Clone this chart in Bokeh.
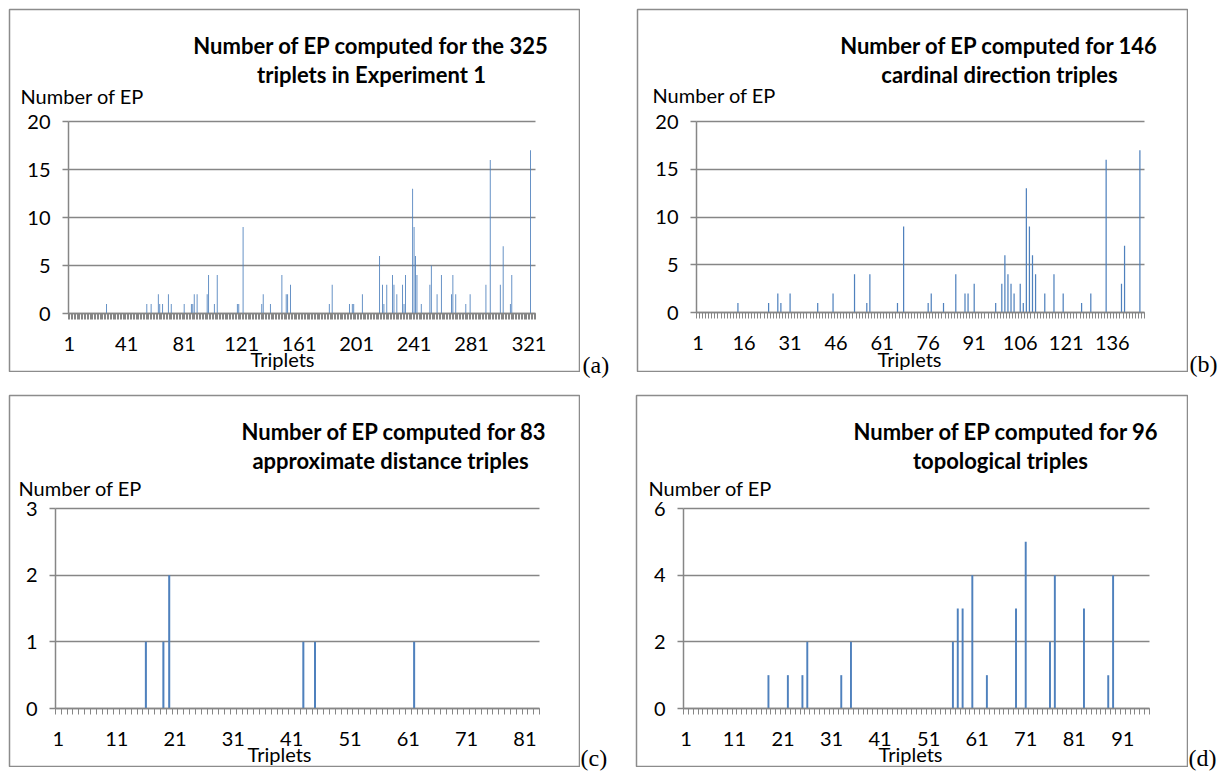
from bokeh.plotting import figure
from bokeh.models import Range1d, FixedTicker, Label, Spacer
from bokeh.layouts import row, column
from bokeh.embed import file_html
from bokeh.resources import INLINE

# ---------------- data ----------------
# (a) 325 triplets in Experiment 1 (only non-zero entries listed)
a_count = 325
a_idx = [27, 55, 58, 63, 64, 66, 70, 72, 81, 86, 87, 88, 90, 97, 98, 102, 104, 118, 119, 122,
         135, 136, 141, 149, 152, 153, 155, 182, 184, 196, 198, 199, 205, 217, 219, 220, 222, 226, 227, 229,
         233, 234, 235, 240, 241, 242, 243, 246, 252, 253, 257, 260, 267, 268, 270, 277, 280, 291, 294, 301,
         303, 308, 309, 322]
a_val = [1, 1, 1, 2, 1, 1, 2, 1, 1, 1, 1, 2, 2, 2, 4, 1, 4, 1, 1, 9,
         1, 2, 1, 4, 2, 2, 3, 1, 3, 1, 1, 1, 2, 6, 3, 1, 3, 4, 3, 2,
         3, 1, 4, 13, 9, 6, 4, 1, 3, 5, 2, 4, 2, 4, 2, 1, 2, 3, 16, 3,
         7, 1, 4, 17]

# (b) 146 cardinal direction triples
b_count = 146
b_idx = [14, 24, 27, 28, 31, 40, 45, 52, 56, 57, 66, 68, 76, 77, 81, 85, 88, 89, 91, 98,
         100, 101, 102, 103, 104, 106, 107, 108, 109, 110, 111, 114, 117, 120, 126, 129, 134, 139, 140, 145]
b_val = [1, 1, 2, 1, 2, 1, 2, 4, 1, 4, 1, 9, 1, 2, 1, 4, 2, 2, 3, 1,
         3, 6, 4, 3, 2, 3, 1, 13, 9, 6, 4, 2, 4, 2, 1, 2, 16, 3, 7, 17]

# (c) 83 approximate distance triples
c_count = 83
c_idx = [16, 19, 20, 43, 45, 62]
c_val = [1, 1, 2, 1, 1, 1]

# (d) 96 topological triples
d_count = 96
d_idx = [18, 22, 25, 26, 33, 35, 56, 57, 58, 60, 63, 69, 71, 76, 77, 83, 88, 89]
d_val = [1, 1, 1, 2, 1, 2, 2, 3, 3, 4, 1, 3, 5, 2, 4, 3, 1, 4]

y_label = "Number of EP"
x_label = "Triplets"
titles = {
    "a": ["Number of EP computed for the 325", "triplets in Experiment 1"],
    "b": ["Number of EP computed for 146", "cardinal direction triples"],
    "c": ["Number of EP computed for 83", "approximate distance triples"],
    "d": ["Number of EP computed for 96", "topological triples"],
}

# ---------------- style ----------------
GRAY = "#868686"
BORDER = "#8c8c8c"
BAR = "#4F81BD"
FONT = "Lato"
TXT = "20px"
TITLE = "22px"
LIFT = 8  # label anchor correction (px)


def panel(n, idx, val, ymax, ystep, xstep, w, h, fl, fr, ft, fb, bar_w,
          ttl, ttl_x, ttl_y, ylab_x, ylab_y, xlab_x, xlab_y):
    def xd(px):
        return 0.5 + (px - fl) / (fr - fl) * n

    def yd(py):
        return (fb - py) / (fb - ft) * ymax

    p = figure(width=w, height=h,
               x_range=Range1d(xd(1), xd(w - 1)), y_range=Range1d(yd(h - 1), yd(1)),
               output_backend="svg", toolbar_location=None, min_border=1)
    p.outline_line_color = BORDER
    p.outline_line_width = 1.5
    p.background_fill_color = "white"
    p.border_fill_color = "white"

    p.vbar(x=idx, top=val, width=bar_w, fill_color=BAR, line_color=None)

    yt = list(range(0, ymax + 1, ystep))
    p.yaxis.ticker = FixedTicker(ticks=yt)
    p.ygrid.ticker = FixedTicker(ticks=yt)
    p.ygrid.grid_line_color = GRAY
    p.ygrid.grid_line_width = 1.5
    p.ygrid.cross_bounds = (0.5, n + 0.5)
    p.xgrid.visible = False

    xt = list(range(1, n + 1, xstep))
    p.xaxis.ticker = FixedTicker(ticks=xt, minor_ticks=[k + 0.5 for k in range(0, n + 1)])
    p.xaxis.fixed_location = 0
    p.xaxis.bounds = (0.5, n + 0.5)
    p.xaxis.major_tick_line_color = None
    p.xaxis.major_tick_out = 6
    p.xaxis.major_tick_in = 0
    p.xaxis.minor_tick_line_color = GRAY
    p.xaxis.minor_tick_out = 6
    p.xaxis.minor_tick_in = 0
    p.xaxis.major_label_standoff = 17

    p.yaxis.fixed_location = 0.5
    p.yaxis.bounds = (0, ymax)
    p.yaxis.major_tick_line_color = GRAY
    p.yaxis.major_tick_line_width = 1.5
    p.yaxis.major_tick_out = 6
    p.yaxis.major_tick_in = 0
    p.yaxis.minor_tick_line_color = None
    p.yaxis.major_label_standoff = 12

    for ax in (p.xaxis, p.yaxis):
        ax.axis_line_color = GRAY
        ax.axis_line_width = 1.5
        ax.major_label_text_font = FONT
        ax.major_label_text_font_size = TXT
        ax.major_label_text_color = "black"

    def lab(px, py, text, bold=False, align="left", size=TXT):
        p.add_layout(Label(x=xd(px), y=yd(py - LIFT), text=text, text_font=FONT, text_font_size=size,
                           text_font_style="bold" if bold else "normal", text_color="black",
                           text_align=align, text_baseline="alphabetic"))

    lab(ttl_x[0], ttl_y[0], ttl[0], bold=True, align="center", size=TITLE)
    lab(ttl_x[1], ttl_y[1], ttl[1], bold=True, align="center", size=TITLE)
    lab(ylab_x, ylab_y, y_label)
    lab(xlab_x, xlab_y, x_label, align="center")
    return p


def tag(text, w, h, px, py):
    q = figure(width=w, height=h, x_range=Range1d(0, w), y_range=Range1d(0, h),
               output_backend="svg", toolbar_location=None, min_border=0,
               x_axis_type=None, y_axis_type=None)
    q.outline_line_color = None
    q.background_fill_color = "white"
    q.border_fill_color = "white"
    q.add_layout(Label(x=px, y=h - (py - LIFT), text=text, text_font="Liberation Serif",
                       text_font_size="24px", text_color="black", text_align="left",
                       text_baseline="alphabetic"))
    return q


pa = panel(a_count, a_idx, a_val, 20, 5, 40, 572, 364, 60, 527, 113, 305, 0.6,
           titles["a"], (363, 363), (45, 74), 12, 95, 274, 358)
pb = panel(b_count, b_idx, b_val, 20, 5, 15, 552, 364, 60, 508, 113, 304, 0.4,
           titles["b"], (363, 363), (45, 74), 16, 94, 273, 358)
pc = panel(c_count, c_idx, c_val, 3, 1, 10, 572, 373, 47, 531, 114, 314, 0.35,
           titles["c"], (386, 382), (45, 74), 10, 101, 271, 367)
pd = panel(d_count, d_idx, d_val, 6, 2, 10, 553, 373, 48, 514, 114, 314, 0.4,
           titles["d"], (371, 365), (45, 74), 13, 101, 275, 367)

ta = tag("(a)", 56, 372, 2, 365)
tb = tag("(b)", 32, 372, 1, 364)
tc = tag("(c)", 55, 377, 0, 372)
td = tag("(d)", 32, 377, 0, 372)

layout = column(
    Spacer(width=1220, height=8),
    row(Spacer(width=8, height=364), pa, ta, pb, tb),
    Spacer(width=1220, height=14),
    row(Spacer(width=8, height=373), pc, tc, pd, td),
)

open("out.html", "w").write(file_html(layout, INLINE))
